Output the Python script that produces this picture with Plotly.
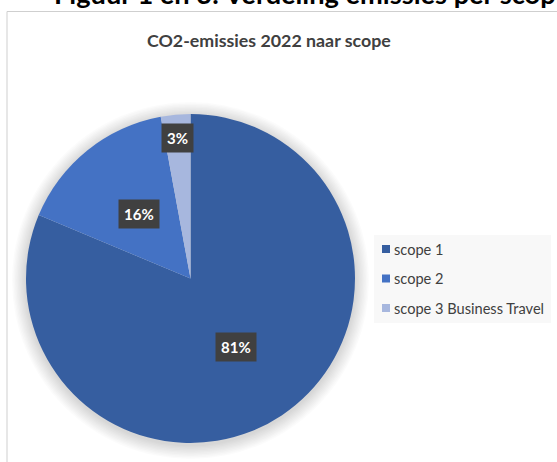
import math
import plotly.graph_objects as go

# ---- data ----
categories = ["scope 1", "scope 2", "scope 3 Business Travel"]
values = [81.3, 15.8, 2.9]
colors = ["#365EA0", "#4472C4", "#A7B7DE"]
chart_title = "CO2-emissies 2022 naar scope"
page_heading = "Figuur 1 en 3: Verdeling emissies per scope"

# ---- layout helpers (pixel -> paper) ----
W, H = 557, 462


def px(x):
    return x / W


def py(y):
    return 1 - y / H


cx, cy, r = 190.5, 278.5, 164.5
FONT = "Lato"

fig = go.Figure()
fig.add_trace(go.Pie(
    labels=categories,
    values=values,
    sort=False,
    direction="clockwise",
    rotation=0,
    marker=dict(colors=colors, line=dict(width=0)),
    textinfo="none",
    showlegend=False,
    hoverinfo="label+percent",
    domain=dict(x=[px(cx - r), px(cx + r)], y=[py(cy + r), py(cy - r)]),
))

shapes = []
# chart border (continues past the right/bottom edge of the picture)
shapes.append(dict(type="rect", xref="paper", yref="paper",
                   x0=px(7), y0=py(11.5), x1=px(W + 50), y1=py(H + 50),
                   line=dict(color="#CFCFCF", width=1), fillcolor="white", layer="below"))
# soft shadow around the pie
for k in range(1, 11):
    rr = r + k * 1.4
    shapes.append(dict(type="circle", xref="paper", yref="paper",
                       x0=px(cx - rr), x1=px(cx + rr),
                       y0=py(cy + 2 + rr), y1=py(cy + 2 - rr),
                       line=dict(width=0), fillcolor="rgba(0,0,0,0.014)", layer="below"))

annotations = []
# page heading, mostly cut off at the top
annotations.append(dict(text="<b>" + page_heading + "</b>", xref="paper", yref="paper",
                        x=px(52), y=py(12.5), xanchor="left", yanchor="bottom",
                        showarrow=False, font=dict(family=FONT, size=27.2, color="#000000")))
# chart title
annotations.append(dict(text="<b>" + chart_title + "</b>", xref="paper", yref="paper",
                        x=px(268.5), y=py(40), xanchor="center", yanchor="middle",
                        showarrow=False, font=dict(family=FONT, size=17.8, color="#404040")))

# data labels
total = sum(values)
cum = 0.0
for v in values:
    share = v / total
    mid = (cum + share / 2) * 2 * math.pi
    cum += share
    frac = 0.5 if share > 0.1 else 0.855
    lx = cx + frac * r * math.sin(mid)
    ly = cy - frac * r * math.cos(mid)
    annotations.append(dict(text="<b>%d%%</b>" % round(share * 100), xref="paper", yref="paper",
                            x=px(lx), y=py(ly), xanchor="center", yanchor="middle",
                            showarrow=False, bgcolor="#404040", borderpad=5,
                            font=dict(family=FONT, size=15, color="white")))

# legend
lg_x0, lg_y0, lg_x1, lg_y1 = 374, 235, 551, 323
shapes.append(dict(type="rect", xref="paper", yref="paper",
                   x0=px(lg_x0), x1=px(lg_x1), y0=py(lg_y1), y1=py(lg_y0),
                   line=dict(width=0), fillcolor="#F8F8F8"))
row0, step = 249, 29.5
for i, (name, col) in enumerate(zip(categories, colors)):
    yy = row0 + i * step
    shapes.append(dict(type="rect", xref="paper", yref="paper",
                       x0=px(382), x1=px(390), y0=py(yy + 4), y1=py(yy - 4),
                       line=dict(width=0), fillcolor=col))
    annotations.append(dict(text=name, xref="paper", yref="paper",
                            x=px(392), y=py(yy), xanchor="left", yanchor="middle",
                            showarrow=False, font=dict(family=FONT, size=14.6, color="#404040")))

fig.update_layout(
    width=W, height=H,
    margin=dict(l=0, r=0, t=0, b=0),
    paper_bgcolor="white",
    plot_bgcolor="white",
    shapes=shapes,
    annotations=annotations,
    showlegend=False,
)

fig.write_html("out.html", config={"displayModeBar": False},
               post_script="document.body.style.margin='0';document.body.style.overflow='hidden';")
